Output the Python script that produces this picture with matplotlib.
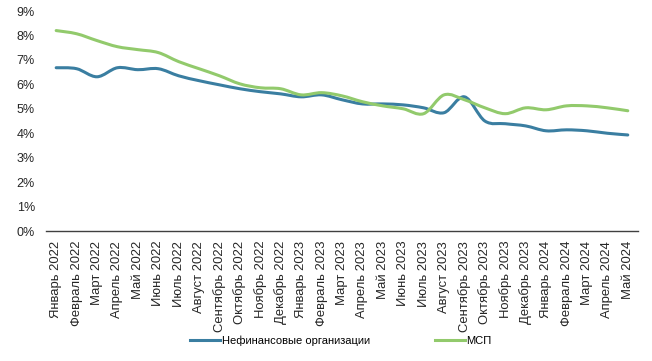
import matplotlib.pyplot as plt
import numpy as np
from matplotlib.path import Path
from matplotlib.patches import PathPatch
from matplotlib.lines import Line2D
from matplotlib.ticker import FuncFormatter

plt.rcParams['font.family'] = ['Liberation Sans', 'DejaVu Sans']

# months Jan 2022 .. May 2024
months = ['Январь 2022', 'Февраль 2022', 'Март 2022', 'Апрель 2022', 'Май 2022',
          'Июнь 2022', 'Июль 2022', 'Август 2022', 'Сентябрь 2022', 'Октябрь 2022',
          'Ноябрь 2022', 'Декабрь 2022', 'Январь 2023', 'Февраль 2023', 'Март 2023',
          'Апрель 2023', 'Май 2023', 'Июнь 2023', 'Июль 2023', 'Август 2023',
          'Сентябрь 2023', 'Октябрь 2023', 'Ноябрь 2023', 'Декабрь 2023',
          'Январь 2024', 'Февраль 2024', 'Март 2024', 'Апрель 2024', 'Май 2024']

# rates, %
nonfin = [6.68, 6.64, 6.31, 6.68, 6.60, 6.64, 6.35, 6.15, 5.98, 5.82,
          5.70, 5.61, 5.49, 5.57, 5.37, 5.20, 5.20, 5.16, 5.04, 4.84,
          5.49, 4.50, 4.39, 4.30, 4.10, 4.14, 4.10, 4.00, 3.93]
msp = [8.20, 8.07, 7.79, 7.54, 7.42, 7.30, 6.93, 6.64, 6.35, 6.02,
       5.86, 5.82, 5.57, 5.66, 5.53, 5.29, 5.12, 5.00, 4.80, 5.57,
       5.37, 5.04, 4.80, 5.04, 4.96, 5.12, 5.12, 5.04, 4.92]

labels = ['Нефинансовые организации', 'МСП']
colors = ['#3a7ea1', '#92ca6c']


def smooth_path(x, y):
    # Excel-like smoothed line: cubic Bezier through the points
    x = np.asarray(x, float)
    y = np.asarray(y, float)
    pts = np.column_stack([x, y])
    verts = [pts[0]]
    codes = [Path.MOVETO]
    n = len(pts)
    for i in range(n - 1):
        p0 = pts[max(i - 1, 0)]
        p1 = pts[i]
        p2 = pts[i + 1]
        p3 = pts[min(i + 2, n - 1)]
        c1 = p1 + (p2 - p0) / 6
        c2 = p2 - (p3 - p1) / 6
        verts += [c1, c2, p2]
        codes += [Path.CURVE4] * 3
    return Path(verts, codes)


fig = plt.figure(figsize=(6.52, 3.61), dpi=100)
ax = fig.add_axes([0.0705, 0.36, 0.908, 0.6095])

x = np.arange(len(months))
for vals, c in zip([nonfin, msp], colors):
    p = smooth_path(x, np.array(vals) / 100)
    ax.add_patch(PathPatch(p, facecolor='none', edgecolor=c, lw=2.2,
                           capstyle='round', joinstyle='round'))

ax.set_xlim(-0.5, len(months) - 0.5)
ax.set_ylim(0, 0.09)
ax.set_yticks(np.arange(0, 0.091, 0.01))
ax.yaxis.set_major_formatter(FuncFormatter(lambda v, _: f'{v * 100:.0f}%'))
ax.set_xticks(x)
ax.set_xticklabels(months, rotation=90, fontsize=9.4, color='#262626')
ax.tick_params(axis='y', length=0, labelsize=9, labelcolor='#262626', pad=8)
ax.tick_params(axis='x', length=0, pad=7)

for s in ['top', 'right', 'left']:
    ax.spines[s].set_visible(False)
ax.spines['bottom'].set_color('#404040')
ax.spines['bottom'].set_linewidth(1.0)

handles = [Line2D([], [], color=c, lw=2.2) for c in colors]
fig.legend(handles, labels, loc='center', bbox_to_anchor=(0.523, 0.057), ncol=2,
           frameon=False, fontsize=8, handlelength=2.7, handletextpad=0.1,
           columnspacing=5.9)

fig.savefig('out.png', dpi=100)
